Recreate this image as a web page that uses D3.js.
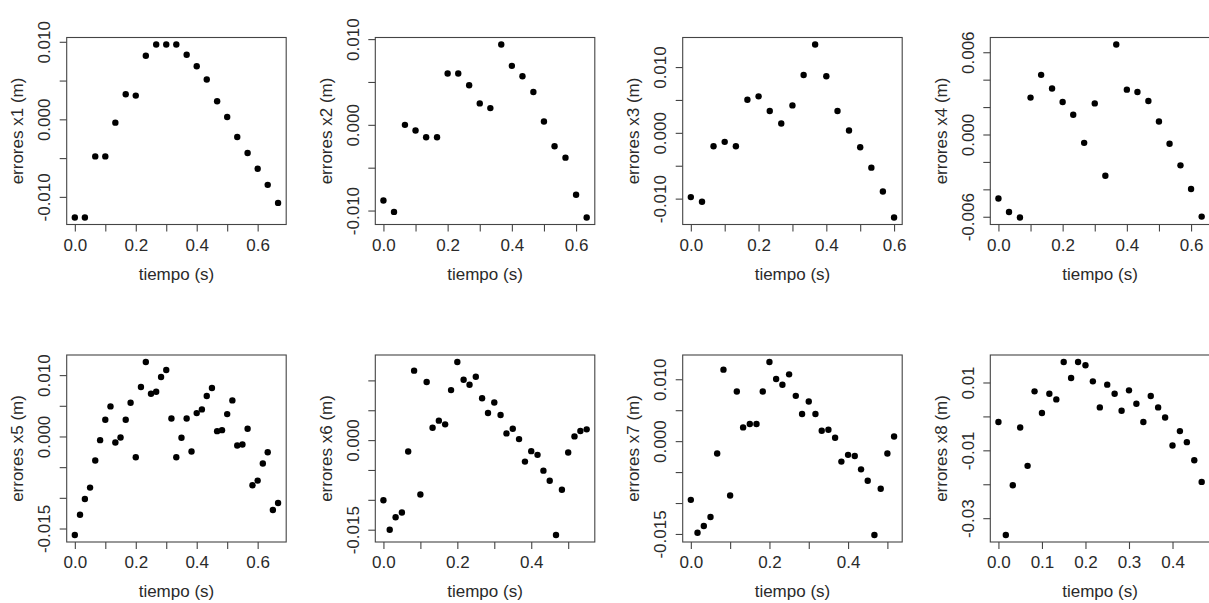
<!DOCTYPE html>
<html>
<head>
<meta charset="utf-8">
<script src="https://cdn.jsdelivr.net/npm/d3@7"></script>
<style>
  body { margin: 0; background: #fff; }
  svg { display: block; }
  text { font-family: "Liberation Sans", Arial, sans-serif; font-size: 17px; fill: #2a2a2a; }
</style>
</head>
<body>
<div id="chart"></div>
<script>
// time samples (s)
const tA = [0, 0.033, 0.067, 0.100, 0.133, 0.167, 0.200, 0.233, 0.267, 0.300, 0.333,
            0.367, 0.400, 0.433, 0.467, 0.500, 0.533, 0.567, 0.600, 0.633, 0.667]
const tB = [0, 0.017, 0.033, 0.050, 0.067, 0.083, 0.100, 0.117, 0.133, 0.150, 0.167,
            0.183, 0.200, 0.217, 0.233, 0.250, 0.267, 0.283, 0.300, 0.317, 0.333,
            0.350, 0.367, 0.383, 0.400, 0.417, 0.433, 0.450, 0.467, 0.483, 0.500,
            0.517, 0.533, 0.550, 0.567, 0.583, 0.600, 0.617, 0.633, 0.650, 0.667]

// errors (m)
const err1 = [-0.01267, -0.01267, -0.00478, -0.00478, -0.00043, 0.00323, 0.00306, 0.00819,
              0.00966, 0.00966, 0.00966, 0.00832, 0.00685, 0.00513, 0.00233, 0.00030,
              -0.00228, -0.00435, -0.00638, -0.00845, -0.01078]
const err2 = [-0.00883, -0.01016, 0.00000, -0.00066, -0.00145, -0.00145, 0.00598, 0.00598,
              0.00461, 0.00250, 0.00195, 0.00938, 0.00688, 0.00566, 0.00383, 0.00039,
              -0.00250, -0.00383, -0.00816, -0.01082]
const err3 = [-0.00977, -0.01048, -0.00204, -0.00137, -0.00204, 0.00504, 0.00555, 0.00331,
              0.00142, 0.00417, 0.00880, 0.01344, 0.00860, 0.00331, 0.00036, -0.00219,
              -0.00529, -0.00891, -0.01288]
const err4 = [-0.00467, -0.00565, -0.00606, 0.00269, 0.00435, 0.00335, 0.00237, 0.00144,
              -0.00061, 0.00227, -0.00301, 0.00657, 0.00327, 0.00310, 0.00244, 0.00095,
              -0.00068, -0.00225, -0.00398, -0.00599]
const err5 = [-0.01607, -0.01275, -0.01019, -0.00833, -0.00392, -0.00060, 0.00272, 0.00490,
              -0.00098, -0.00016, 0.00272, 0.00550, -0.00338, 0.00806, 0.01215, 0.00697,
              0.00730, 0.00969, 0.01084, 0.00294, -0.00338, -0.00022, 0.00294, -0.00245,
              0.00381, 0.00441, 0.00659, 0.00790, 0.00087, 0.00103, 0.00365, 0.00588,
              -0.00147, -0.00131, 0.00125, -0.00795, -0.00719, -0.00441, -0.00256, -0.01198,
              -0.01084]
const err6 = [-0.01006, -0.01500, -0.01292, -0.01213, -0.00191, 0.01163, -0.00910, 0.00972,
              0.00208, 0.00326, 0.00264, 0.00837, 0.01309, 0.01011, 0.00927, 0.01062,
              0.00702, 0.00455, 0.00629, 0.00421, 0.00112, 0.00191, 0.00017, -0.00360,
              -0.00185, -0.00247, -0.00511, -0.00680, -0.01590, -0.00831, -0.00208, 0.00062,
              0.00152, 0.00180]
const err7 = [-0.00949, -0.01481, -0.01372, -0.01226, -0.00201, 0.01155, -0.00879, 0.00803,
              0.00222, 0.00277, 0.00277, 0.00803, 0.01280, 0.01003, 0.00911, 0.01079,
              0.00732, 0.00439, 0.00640, 0.00439, 0.00168, 0.00184, 0.00054, -0.00331,
              -0.00222, -0.00239, -0.00456, -0.00640, -0.01518, -0.00770, -0.00201, 0.00076]
const err8 = [-0.00167, -0.03498, -0.02030, -0.00325, -0.01458, 0.00739, 0.00099, 0.00670,
              0.00502, 0.01606, 0.01133, 0.01606, 0.01507, 0.01034, 0.00266, 0.00936,
              0.00670, 0.00167, 0.00768, 0.00374, -0.00167, 0.00601, 0.00266, -0.00030,
              -0.00857, -0.00433, -0.00759, -0.01291, -0.01931]

const yLabels = ['errores x1 (m)', 'errores x2 (m)', 'errores x3 (m)', 'errores x4 (m)',
                 'errores x5 (m)', 'errores x6 (m)', 'errores x7 (m)', 'errores x8 (m)']
const xLabel = 'tiempo (s)'

// ticks and which of them carry a label
const xTicks6 = [0, 0.1, 0.2, 0.3, 0.4, 0.5, 0.6]
const xTicks5 = [0, 0.1, 0.2, 0.3, 0.4, 0.5]
const xTicks4 = [0, 0.1, 0.2, 0.3, 0.4]
const xShow6 = [0, 0.2, 0.4, 0.6]
const xShow5 = [0, 0.2, 0.4]
const yTicks10 = [-0.010, -0.005, 0, 0.005, 0.010]
const yTicks15 = [-0.015, -0.010, -0.005, 0, 0.005, 0.010]
const yTicks6 = [-0.006, -0.004, -0.002, 0, 0.002, 0.004, 0.006]
const yTicks30 = [-0.03, -0.02, -0.01, 0, 0.01]
const yShow1 = [-0.010, 0, 0.010]
const yShow4 = [-0.006, 0, 0.006]
const yShow5 = [-0.015, 0, 0.010]
const yShow6 = [-0.015, 0]
const yShow8 = [-0.03, -0.01, 0.01]

const width = 1209
const height = 603
const boxW = 219.5
const boxH = 187
const lefts = [66.7, 375.3, 682.7, 990.3]
const tops = [37.5, 355]

const loc = d3.formatLocale({ decimal: '.', thousands: ',', grouping: [3], currency: ['', ''], minus: '-' })

const panels = [
  { t: tA, e: err1, xt: xTicks6, xs: xShow6, yt: yTicks10, ys: yShow1, yf: '.3f' },
  { t: tA.slice(0, 20), e: err2, xt: xTicks6, xs: xShow6, yt: yTicks10, ys: yShow1, yf: '.3f' },
  { t: tA.slice(0, 19), e: err3, xt: xTicks6, xs: xShow6, yt: yTicks10, ys: yShow1, yf: '.3f' },
  { t: tA.slice(0, 20), e: err4, xt: xTicks6, xs: xShow6, yt: yTicks6, ys: yShow4, yf: '.3f' },
  { t: tB, e: err5, xt: xTicks6, xs: xShow6, yt: yTicks15, ys: yShow5, yf: '.3f' },
  { t: tB.slice(0, 34), e: err6, xt: xTicks5, xs: xShow5, yt: yTicks15, ys: yShow6, yf: '.3f' },
  { t: tB.slice(0, 32), e: err7, xt: xTicks5, xs: xShow5, yt: yTicks15, ys: yShow5, yf: '.3f' },
  { t: tB.slice(0, 29), e: err8, xt: xTicks4, xs: xTicks4, yt: yTicks30, ys: yShow8, yf: '.2f' }
]

// R style range: data extent widened by 4% on each side
function padded(vals) {
  let [lo, hi] = d3.extent(vals)
  let d = (hi - lo) * 0.04
  return [lo - d, hi + d]
}
const has = (arr, v) => arr.some(a => Math.abs(a - v) < 1e-9)

const svg = d3.select('#chart').append('svg')
  .attr('width', width)
  .attr('height', height)

panels.forEach((p, i) => {
  let left = lefts[i % 4]
  let top = tops[Math.floor(i / 4)]
  let g = svg.append('g').attr('transform', `translate(${left}, ${top})`)

  let x = d3.scaleLinear().domain(padded(p.t)).range([0, boxW])
  let y = d3.scaleLinear().domain(padded(p.e)).range([boxH, 0])
  let xf = loc.format('.1f')
  let yf = loc.format(p.yf)

  let xAxis = d3.axisBottom(x)
    .tickValues(p.xt.filter(v => v >= x.domain()[0] && v <= x.domain()[1]))
    .tickSize(7)
    .tickFormat(d => has(p.xs, d) ? xf(d) : '')

  let yAxis = d3.axisLeft(y)
    .tickValues(p.yt.filter(v => v >= y.domain()[0] && v <= y.domain()[1]))
    .tickSize(7)
    .tickFormat(d => has(p.ys, d) ? yf(d) : '')

  let xg = g.append('g').attr('transform', `translate(0, ${boxH})`).call(xAxis)
  let yg = g.append('g').call(yAxis)

  for (let ag of [xg, yg]) {
    ag.attr('font-family', null).attr('font-size', null)
    ag.select('.domain').remove()
    ag.selectAll('.tick line').attr('stroke', '#444').attr('stroke-width', 1.1)
  }
  xg.selectAll('.tick text').attr('y', 26).attr('dy', null)
  yg.selectAll('.tick text')
    .attr('x', null).attr('dy', null)
    .attr('text-anchor', 'middle')
    .attr('transform', 'translate(-16.5, 0) rotate(-90)')

  // plot frame
  g.append('rect')
    .attr('x', 0).attr('y', 0)
    .attr('width', boxW).attr('height', boxH)
    .attr('fill', 'none')
    .attr('stroke', '#444')
    .attr('stroke-width', 1.1)

  g.selectAll('circle.pt')
    .data(p.t.map((t, k) => [t, p.e[k]]))
    .join('circle')
    .attr('class', 'pt')
    .attr('cx', d => x(d[0]))
    .attr('cy', d => y(d[1]))
    .attr('r', 3.2)
    .attr('fill', '#000')

  g.append('text')
    .attr('x', boxW / 2)
    .attr('y', boxH + 55)
    .attr('text-anchor', 'middle')
    .text(xLabel)

  g.append('text')
    .attr('transform', `translate(-43.5, ${boxH / 2}) rotate(-90)`)
    .attr('text-anchor', 'middle')
    .text(yLabels[i])
})
</script>
</body>
</html>
